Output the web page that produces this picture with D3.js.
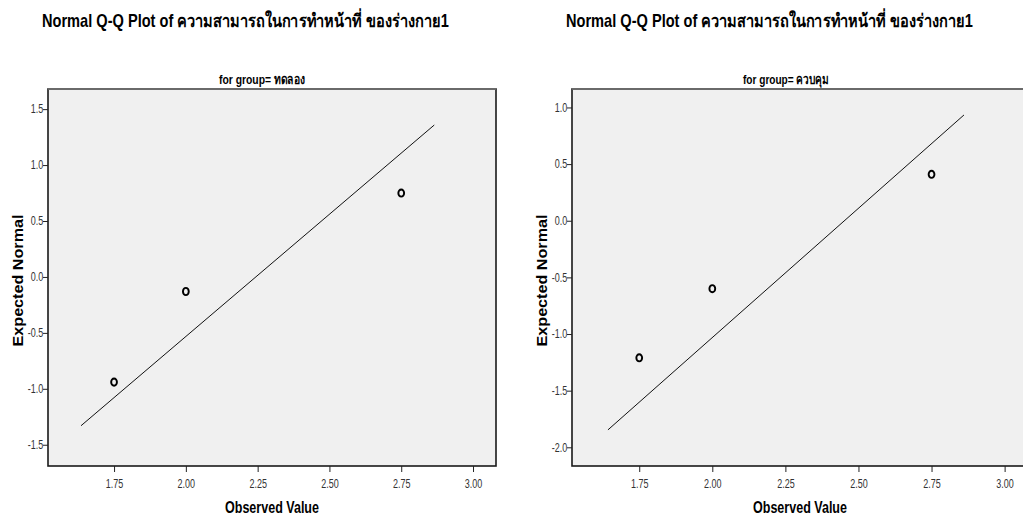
<!DOCTYPE html>
<html>
<head>
<meta charset="utf-8">
<script src="https://cdn.jsdelivr.net/npm/d3@7"></script>
<style>
  body { margin: 0; background: #fff; }
  text { font-family: "Liberation Sans", Arial, sans-serif; }
</style>
</head>
<body>
<script>
// data
var titleText = "Normal Q-Q Plot of ความสามารถในการทำหน้าที่ ของร่างกาย1";
var groups = ["ทดลอง", "ควบคุม"];
var observed = [1.75, 2.00, 2.75];
var expectedTreat = [-0.94, -0.13, 0.75];
var expectedCtrl = [-1.21, -0.60, 0.41];
var lineXTreat = [1.635, 2.865];
var lineYTreat = [-1.33, 1.358];
var lineXCtrl = [1.643, 2.861];
var lineYCtrl = [-1.846, 0.934];
var xTicks = [1.75, 2.00, 2.25, 2.50, 2.75, 3.00];
var yTicksTreat = [-1.5, -1.0, -0.5, 0.0, 0.5, 1.0, 1.5];
var yTicksCtrl = [-2.0, -1.5, -1.0, -0.5, 0.0, 0.5, 1.0];

var w = 1023;
var h = 517;

var svg = d3.select("body")
            .append("svg")
            .attr("width", w)
            .attr("height", h);

function drawPanel(left, right, yDomain, yTicks, expected, lineX, lineY, group) {
  var top = 89, bottom = 466;

  var x = d3.scaleLinear().domain([1.52, 3.08]).range([left, right]);
  var y = d3.scaleLinear().domain(yDomain).range([bottom, top]);

  var g = svg.append("g");

  // panel background
  g.append("rect")
   .attr("x", left)
   .attr("y", top)
   .attr("width", right - left)
   .attr("height", bottom - top)
   .attr("fill", "#f0f0f0")
   .attr("stroke", "#1a1a1a")
   .attr("stroke-width", 1.6);
  g.append("line")
   .attr("x1", left).attr("x2", right)
   .attr("y1", top).attr("y2", top)
   .attr("stroke", "#777").attr("stroke-width", 1.6);

  // axes
  var xAxis = d3.axisBottom(x).tickValues(xTicks).tickSize(6).tickSizeOuter(0)
                .tickFormat(function(d) { return d.toFixed(2); });
  var yAxis = d3.axisLeft(y).tickValues(yTicks).tickSize(5).tickSizeOuter(0)
                .tickFormat(function(d) { return d.toFixed(1); });

  var gx = g.append("g").attr("transform", "translate(0," + bottom + ")").call(xAxis);
  var gy = g.append("g").attr("transform", "translate(" + left + ",0)").call(yAxis);
  [gx, gy].forEach(function(a) {
    a.select(".domain").remove();
    a.selectAll("line").attr("stroke", "#222");
    a.selectAll("text").attr("fill", "#333").style("font-size", "12px")
     .style("font-family", "'Liberation Sans', Arial, sans-serif")
     .attr("transform", "scale(0.75,1)");  // narrow look
  });
  gx.selectAll("text").attr("dy", "1.05em");
  gy.selectAll("text").attr("x", -6.5);

  // reference line
  g.append("line")
   .attr("x1", x(lineX[0])).attr("y1", y(lineY[0]))
   .attr("x2", x(lineX[1])).attr("y2", y(lineY[1]))
   .attr("stroke", "#111")
   .attr("stroke-width", 1);

  // points
  g.selectAll("ellipse")
   .data(observed)
   .enter()
   .append("ellipse")
   .attr("cx", function(d) { return x(d); })
   .attr("cy", function(d, i) { return y(expected[i]); })
   .attr("rx", 2.9)
   .attr("ry", 3.6)
   .attr("fill", "none")
   .attr("stroke", "#000")
   .attr("stroke-width", 1.9);

  g.append("text")
   .text("for group= " + group)
   .attr("x", left + 214)
   .attr("y", 84)
   .attr("text-anchor", "middle")
   .attr("textLength", 86)
   .attr("lengthAdjust", "spacingAndGlyphs")
   .style("font-size", "13px")
   .style("font-weight", "bold");

  g.append("text")
   .text("Observed Value")
   .attr("x", (left + right) / 2)
   .attr("y", 513)
   .attr("text-anchor", "middle")
   .attr("textLength", 94)
   .attr("lengthAdjust", "spacingAndGlyphs")
   .style("font-size", "17px")
   .style("font-weight", "bold");

  g.append("text")
   .text("Expected Normal")
   .attr("transform", "translate(" + (left - 25) + "," + ((top + bottom) / 2 + 3) + ") rotate(-90)")
   .attr("text-anchor", "middle")
   .attr("textLength", 132)
   .attr("lengthAdjust", "spacingAndGlyphs")
   .style("font-size", "15px")
   .style("font-weight", "bold");

  // title: squeeze horizontally to the narrow width of the original
  var t = g.append("text")
   .text(titleText)
   .attr("text-anchor", "start")
   .style("font-size", "18px")
   .style("font-weight", "bold");
  var sx = 408 / t.node().getComputedTextLength();
  t.attr("transform", "translate(" + (left - 6) + ",27) scale(" + sx + ",1)");
}

drawPanel(48, 496, [-1.69, 1.68], yTicksTreat, expectedTreat, lineXTreat, lineYTreat, groups[0]);
drawPanel(572, 1028, [-2.165, 1.163], yTicksCtrl, expectedCtrl, lineXCtrl, lineYCtrl, groups[1]);
</script>
</body>
</html>
